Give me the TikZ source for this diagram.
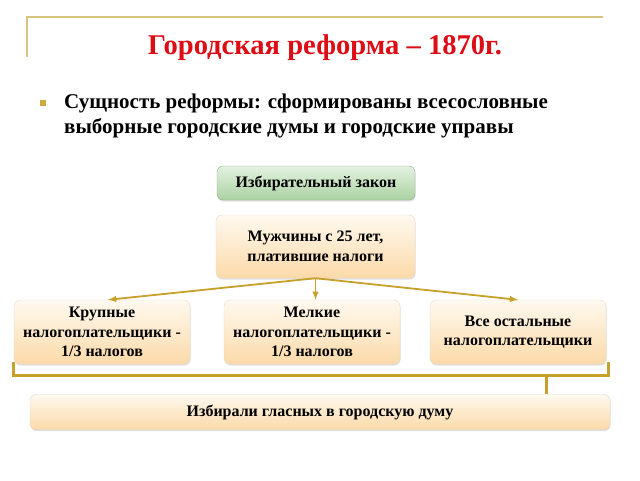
\documentclass[tikz,border=0pt]{standalone}
\usepackage{fontspec}
\setmainfont{Liberation Serif}
\usetikzlibrary{shadows}
\definecolor{gold}{RGB}{198,160,40}
\definecolor{linegold}{RGB}{214,196,128}
\definecolor{titlered}{RGB}{222,12,20}
\definecolor{peachtop}{RGB}{255,249,240}
\definecolor{peachbot}{RGB}{251,218,168}
\definecolor{greentop}{RGB}{228,242,224}
\definecolor{greenbot}{RGB}{170,210,162}
\tikzset{
  box/.style={rounded corners=6pt, draw=peachbot!70!gray!60, top color=peachtop,
    bottom color=peachbot, align=center, inner sep=2pt,
    font=\fontsize{16}{19.5}\selectfont\bfseries,
    drop shadow={shadow xshift=0.5pt, shadow yshift=-1.5pt, opacity=0.25}},
  lawbox/.style={box, draw=greenbot!60!black!70, top color=greentop, bottom color=greenbot},
  link/.style={draw=gold, line width=1.8pt, -latex}
}
\begin{document}
\begin{tikzpicture}[x=1pt,y=-1pt]
      \useasboundingbox (0,0) rectangle (640,480);
      \draw[linegold, line width=1.2pt] (27,57) -- (27,17) -- (603,17);
      \node[text=titlered, font=\fontsize{28.6}{30}\selectfont\bfseries] (title) at (325,48) {Городская реформа -- 1870г.};
      \fill[gold!90] (40,100) rectangle (46,106);
      \node[anchor=west, text width=540pt, align=flush left, inner sep=0pt,
        font=\fontsize{21}{25}\selectfont\bfseries] (essence) at (64,116)
        {Сущность реформы: сформированы всесословные\\выборные городские думы и городские управы};

      \node[lawbox, minimum width=198pt, minimum height=34pt] (law) at (316,183) {Избирательный закон};
      \node[box, minimum width=199pt, minimum height=63pt] (men) at (315.5,246.5) {Мужчины с 25 лет,\\платившие налоги};
      \node[box, minimum width=176pt, minimum height=64pt] (big) at (102,332) {Крупные\\налогоплательщики -\\1/3 налогов};
      \node[box, minimum width=176pt, minimum height=64pt] (small) at (312,332) {Мелкие\\налогоплательщики -\\1/3 налогов};
      \node[box, minimum width=176pt, minimum height=64pt] (rest) at (518,332) {Все остальные\\налогоплательщики};
      \node[box, minimum width=580pt, minimum height=35pt] (duma) at (320,412) {Избирали гласных в городскую думу};

      \draw[link] (men.south) -- ([xshift=6pt]big.north);
      \draw[link] (men.south) -- (men.south |- small.north);
      \draw[link] (men.south) -- (rest.north);

      \draw[gold, line width=3pt] ([yshift=2pt]big.south west) -- ++(0,13) -| ([xshift=2pt,yshift=2pt]rest.south east);
      \coordinate (tick) at (546,375);
      \draw[gold, line width=3pt] (tick) -- (tick |- duma.north);
    \end{tikzpicture}
\end{document}
